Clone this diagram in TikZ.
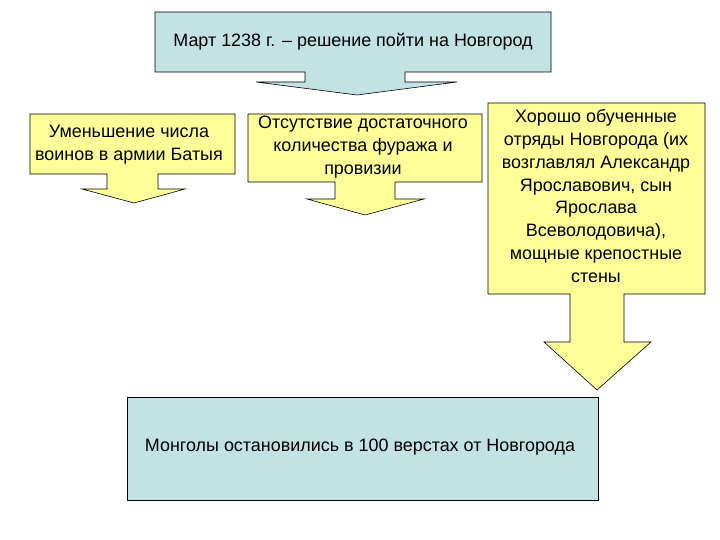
\documentclass[tikz,border=0pt]{standalone}
\usepackage{fontspec}
\setmainfont{Liberation Sans}
\definecolor{cblue}{HTML}{C2E2E4}
\definecolor{cyel}{HTML}{FFFF99}
\begin{document}
\begin{tikzpicture}[x=1bp,y=-1bp,
  shp/.style={draw=black,line width=0.6pt},
  txt/.style={align=center,font=\fontsize{18}{23}\selectfont,inner sep=0pt}]
\useasboundingbox[fill=white] (0,0) rectangle (720,540);
% top callout
\draw[shp,fill=cblue] (155,12)--(551,12)--(551,72)--(405,72)--(405,82)--(457,82)--(357,95)--(256,82)--(305,82)--(305,72)--(155,72)--cycle;
\node[txt] (t) at (353,42) {Март 1238 г. – решение пойти на Новгород};
% left
\draw[shp,fill=cyel] (30,114)--(235,114)--(235,174)--(158,174)--(158,189)--(185,189)--(134,203)--(82,189)--(107,189)--(107,174)--(30,174)--cycle;
\node[txt] (l) at (129,145) {Уменьшение числа\\воинов в армии Батыя};
% middle
\draw[shp,fill=cyel] (248,114)--(482,114)--(482,182)--(395,182)--(395,199)--(424,199)--(365,215)--(307,199)--(335,199)--(335,182)--(248,182)--cycle;
\node[txt] (m) at (363,147) {Отсутствие достаточного\\количества фуража и\\провизии};
% right
\draw[shp,fill=cyel] (488,103)--(705,103)--(705,294)--(624,294)--(624,342)--(651,342)--(597,390)--(544,342)--(570,342)--(570,294)--(488,294)--cycle;
\node[txt] (r) at (596,196) {Хорошо обученные\\отряды Новгорода (их\\возглавлял Александр\\Ярославович, сын\\Ярослава\\Всеволодовича),\\мощные крепостные\\стены};
% bottom
\draw[shp,fill=cblue] (127,397) rectangle (598,500);
\node[txt] (b) at (360,447) {Монголы остановились в 100 верстах от Новгорода};
\end{tikzpicture}
\end{document}
